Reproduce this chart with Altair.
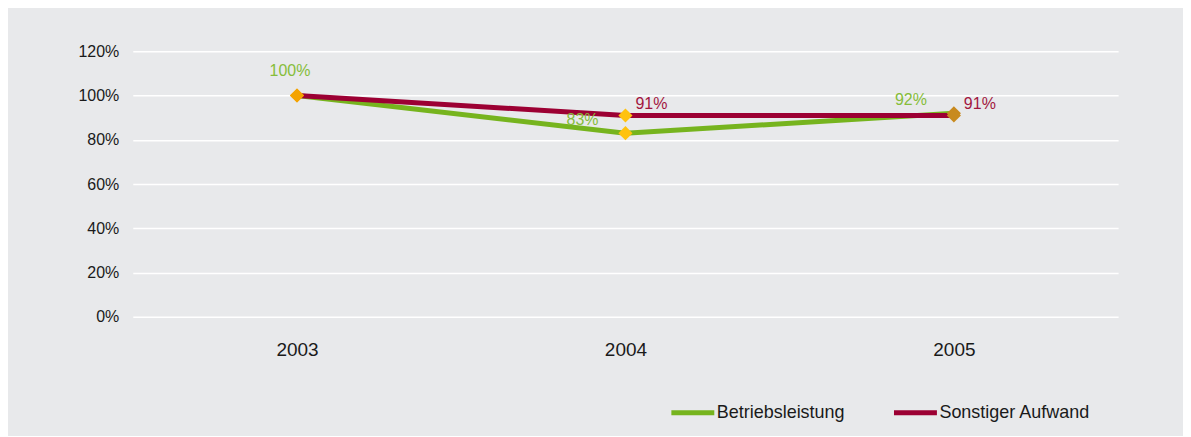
import altair as alt
import pandas as pd

years = ["2003", "2004", "2005"]
betriebsleistung = [1.00, 0.83, 0.92]
sonstiger_aufwand = [1.00, 0.91, 0.91]
series_names = ["Betriebsleistung", "Sonstiger Aufwand"]
series_colors = ["#76B41E", "#9C0033"]
label_colors = ["#86BD3A", "#A2173F"]
marker_colors = ["#F4A300", "#FFC20E", "#C88A1E"]
y_ticks = [0, 0.2, 0.4, 0.6, 0.8, 1.0, 1.2]

rows = []
for name, vals in zip(series_names, [betriebsleistung, sonstiger_aufwand]):
    for yr, v in zip(years, vals):
        rows.append({"Jahr": yr, "Serie": name, "Wert": v})
df = pd.DataFrame(rows)

FONT = "Liberation Sans"

x_enc = alt.X(
    "Jahr:N",
    sort=years,
    scale=alt.Scale(type="point", domain=years, padding=0.5),
    axis=alt.Axis(title=None, labelAngle=0, domain=False, ticks=False, grid=False,
                  labelPadding=24, labelFontSize=19, labelColor="#1a1a1a", labelFont=FONT),
)
y_enc = alt.Y(
    "Wert:Q",
    scale=alt.Scale(domain=[0, 1.2], nice=False, zero=True),
    axis=alt.Axis(title=None, values=y_ticks, format=".0%", domain=False, ticks=False,
                  grid=True, gridColor="#FFFFFF", gridWidth=1.5,
                  labelPadding=14, labelFontSize=16, labelColor="#1a1a1a", labelFont=FONT),
)

base = alt.Chart(df).encode(x=x_enc, y=y_enc)

lines = base.mark_line(strokeWidth=5).encode(
    color=alt.Color(
        "Serie:N",
        scale=alt.Scale(domain=series_names, range=series_colors),
        legend=alt.Legend(
            orient="none", legendX=537, legendY=338, direction="horizontal",
            title=None, symbolType="stroke", symbolStrokeWidth=5, symbolSize=1849,
            labelFontSize=18, labelFont=FONT, labelColor="#1a1a1a", labelOffset=0,
            columnPadding=38, padding=0, labelLimit=300,
        ),
    ),
    detail="Serie:N",
)

points = base.mark_point(shape="diamond", filled=True, size=200, opacity=1).encode(
    fill=alt.Fill("Jahr:N", scale=alt.Scale(domain=years, range=marker_colors), legend=None),
)

lbl_first = base.transform_filter(
    (alt.datum.Serie == series_names[0]) & (alt.datum.Jahr == years[0])
).mark_text(fontSize=16, font=FONT, color=label_colors[0], dx=-7, dy=-25, align="center", baseline="middle").encode(
    text=alt.Text("Wert:Q", format=".0%")
)
lbl_green = base.transform_filter(
    (alt.datum.Serie == series_names[0]) & (alt.datum.Jahr != years[0])
).mark_text(fontSize=16, font=FONT, color=label_colors[0], dx=-27, dy=-13, align="right", baseline="middle").encode(
    text=alt.Text("Wert:Q", format=".0%")
)
lbl_red = base.transform_filter(
    (alt.datum.Serie == series_names[1]) & (alt.datum.Jahr != years[0])
).mark_text(fontSize=16, font=FONT, color=label_colors[1], dx=10, dy=-11, align="left", baseline="middle").encode(
    text=alt.Text("Wert:Q", format=".0%")
)

chart = alt.layer(lines, points, lbl_first, lbl_green, lbl_red).properties(
    width=987,
    height=266,
    autosize=alt.AutoSizeParams(type="none"),
    padding={"left": 125, "top": 43, "right": 65, "bottom": 119},
    background="#E8E9EB",
).configure_view(stroke=None)

chart.save("out.html", embed_options={"renderer": "svg", "actions": False})
